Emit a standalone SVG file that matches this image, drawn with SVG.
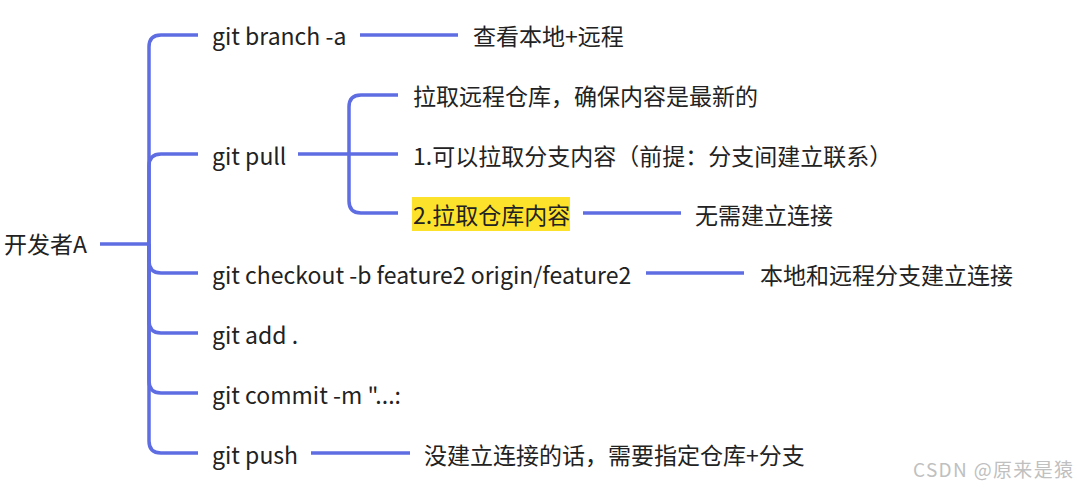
<svg xmlns="http://www.w3.org/2000/svg" width="1077" height="487" viewBox="0 0 1077 487">
<style>
.t{font-family:"Noto Sans CJK SC","Noto Sans",sans-serif;font-size:23px;fill:#222;}
.c{fill:none;stroke:#5F6DE3;stroke-width:3.5;stroke-linecap:butt;}
.wm{font-family:"Noto Sans CJK SC","Noto Sans",sans-serif;font-size:19px;fill:#c0c0c0;}
</style>
<rect width="1077" height="487" fill="#fff"/>
<g id="connectors">
<path class="c" d="M100,244 H149"/>
<path class="c" d="M149,244 V47 Q149,35 161,35 H198"/>
<path class="c" d="M149,244 V166 Q149,154 161,154 H198"/>
<path class="c" d="M149,244 V261 Q149,273 161,273 H198"/>
<path class="c" d="M149,244 V321 Q149,333 161,333 H198"/>
<path class="c" d="M149,244 V381 Q149,393 161,393 H198"/>
<path class="c" d="M149,244 V441 Q149,453 161,453 H198"/>
<path class="c" d="M360,35 H458"/>
<path class="c" d="M298,154 H398"/>
<path class="c" d="M349,154 V107 Q349,95 361,95 H398"/>
<path class="c" d="M349,154 V201 Q349,213 361,213 H398"/>
<path class="c" d="M583,213 H681"/>
<path class="c" d="M646,273 H744"/>
<path class="c" d="M311,453 H410"/>
</g>
<g id="root"><text class="t" x="4" y="253">开发者A</text></g>
<g id="n-branch"><text class="t" x="212" y="45">git branch -a</text></g>
<g id="n-branch-note"><text class="t" x="473" y="45">查看本地+远程</text></g>
<g id="n-pull"><text class="t" x="212" y="165">git pull</text></g>
<g id="n-pull-1"><text class="t" x="413" y="105">拉取远程仓库，确保内容是最新的</text></g>
<g id="n-pull-2"><text class="t" x="413" y="165">1.可以拉取分支内容（前提：分支间建立联系）</text></g>
<g id="n-pull-3"><rect x="412" y="197" width="158" height="34" fill="#FDE22C"/><text class="t" x="413" y="224">2.拉取仓库内容</text></g>
<g id="n-pull-3-note"><text class="t" x="695" y="224">无需建立连接</text></g>
<g id="n-checkout"><text class="t" x="212" y="284">git checkout -b feature2 origin/feature2</text></g>
<g id="n-checkout-note"><text class="t" x="760" y="284">本地和远程分支建立连接</text></g>
<g id="n-add"><text class="t" x="212" y="344">git add .</text></g>
<g id="n-commit"><text class="t" x="212" y="404">git commit -m "...:</text></g>
<g id="n-push"><text class="t" x="212" y="464">git push</text></g>
<g id="n-push-note"><text class="t" x="424" y="464">没建立连接的话，需要指定仓库+分支</text></g>
<text class="wm" x="913" y="477" textLength="160" lengthAdjust="spacing">CSDN @原来是猿</text>
</svg>
